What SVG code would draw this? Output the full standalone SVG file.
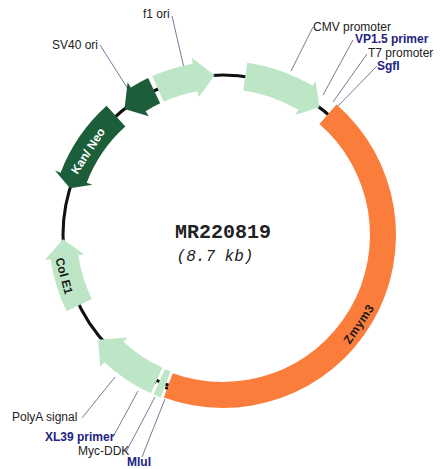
<svg xmlns="http://www.w3.org/2000/svg" width="440" height="469" viewBox="0 0 440 469">
<style>
.lg{fill:#bde6c6}
.dg{fill:#1d5e3a}
.or{fill:#fb7d3c}
.lbl{font-family:"Liberation Sans",Arial,sans-serif;font-size:12px;fill:#222}
.blu{font-family:"Liberation Sans",Arial,sans-serif;font-size:12px;font-weight:bold;fill:#23237f}
.in{font-family:"Liberation Sans",Arial,sans-serif;font-size:12px;font-weight:bold;text-anchor:middle;dominant-baseline:central}
.ld{stroke:#7a7a9a;stroke-width:1;fill:none}
</style>
<rect width="440" height="469" fill="#ffffff"/>
<g id="backbone">
<circle cx="223" cy="235" r="160" fill="none" stroke="#111" stroke-width="3"/>
</g>
<g id="connectors">
<line class="ld" x1="172" y1="16" x2="184" y2="68"/>
<line class="ld" x1="100" y1="45" x2="128" y2="89"/>
<line class="ld" x1="313" y1="27" x2="291" y2="71"/>
<line class="ld" x1="353" y1="40" x2="323" y2="95"/>
<line class="ld" x1="367" y1="54" x2="333" y2="102"/>
<line class="ld" x1="377" y1="66" x2="337" y2="107"/>
<line class="ld" x1="82" y1="418" x2="115" y2="377"/>
<line class="ld" x1="113" y1="437" x2="138" y2="391"/>
<line class="ld" x1="126" y1="452" x2="155" y2="397"/>
<line class="ld" x1="142" y1="457" x2="165" y2="399"/>
</g>
<g id="f1ori">
<path class="lg" d="M152.23,76.05 A174,174 0 0 1 192.79,63.64 L191.74,57.73 L214.63,75.22 L198.69,97.13 L197.65,91.22 A146,146 0 0 0 163.62,101.63 Z"/>
<text class="lbl" x="143" y="18">f1 ori</text>
</g>
<g id="cmv">
<path class="lg" d="M247.22,62.69 A174,174 0 0 1 312.62,85.85 L315.71,80.71 L319.29,107.22 L295.11,115 L298.2,109.85 A146,146 0 0 0 243.32,90.42 Z"/>
<text class="lbl" x="313" y="31">CMV promoter</text>
</g>
<g id="vp15">
<text class="blu" x="355" y="43">VP1.5 primer</text>
</g>
<g id="t7">
<text class="lbl" x="368" y="57">T7 promoter</text>
</g>
<g id="sgfi">
<text class="blu" x="377" y="70">SgfI</text>
</g>
<g id="zmym3">
<path class="or" d="M336.5,104.44 A173,173 0 0 1 163.83,397.57 L172.72,373.13 A147,147 0 0 0 319.44,124.06 Z"/>
<text class="in" fill="#1a1a1a" font-size="13" letter-spacing="0.5" transform="translate(359,324) rotate(-56)">Zmym3</text>
</g>
<g id="mycddk">
<path class="lg" d="M160.64,397.44 A174,174 0 0 1 153.62,394.57 L164.78,368.89 A146,146 0 0 0 170.68,371.3 Z"/>
<circle cx="166.5" cy="388" r="1.6" fill="#111"/>
<circle cx="154.5" cy="382.5" r="1.6" fill="#111"/>
<text class="lbl" x="78" y="455" font-size="11">Myc-DDK</text>
</g>
<g id="mlui">
<text class="blu" x="127" y="466" font-size="11.5">MluI</text>
</g>
<g id="polya">
<path class="lg" d="M150.84,393.33 A174,174 0 0 1 104.33,362.25 L100.24,366.64 L98.14,339.77 L127.52,337.39 L123.43,341.78 A146,146 0 0 0 162.46,367.85 Z"/>
<text class="lbl" x="12" y="421">PolyA signal</text>
</g>
<g id="xl39">
<text class="blu" x="45" y="441">XL39 primer</text>
</g>
<g id="cole1">
<path class="lg" d="M66.61,311.28 A174,174 0 0 1 50.69,259.22 L44.75,260.05 L63.05,239.19 L84.36,254.48 L78.42,255.32 A146,146 0 0 0 91.78,299 Z"/>
<text class="in" fill="#1a1a1a" transform="translate(64,276) rotate(75)">Col E1</text>
</g>
<g id="kanneo">
<path class="dg" d="M106.57,105.69 A174,174 0 0 0 60.56,172.64 L54.96,170.49 L69.99,188.22 L92.3,184.83 L86.7,182.68 A146,146 0 0 1 125.31,126.5 Z"/>
<text class="in" fill="#ffffff" transform="translate(88,151) rotate(-57)">Kan/ Neo</text>
</g>
<g id="sv40">
<path class="dg" d="M148.09,77.95 A174,174 0 0 0 130.79,87.44 L127.61,82.35 L124.49,108.92 L148.81,116.27 L145.63,111.18 A146,146 0 0 1 160.15,103.22 Z"/>
<text class="lbl" x="52" y="49">SV40 ori</text>
</g>
<g id="title">
<text x="223" y="238" text-anchor="middle" font-family="'Liberation Mono','Courier New',monospace" font-size="20" font-weight="bold" fill="#222">MR220819</text>
<text x="215" y="261" text-anchor="middle" font-family="'Liberation Mono','Courier New',monospace" font-size="16" font-style="italic" fill="#222">(8.7 kb)</text>
</g>
</svg>
